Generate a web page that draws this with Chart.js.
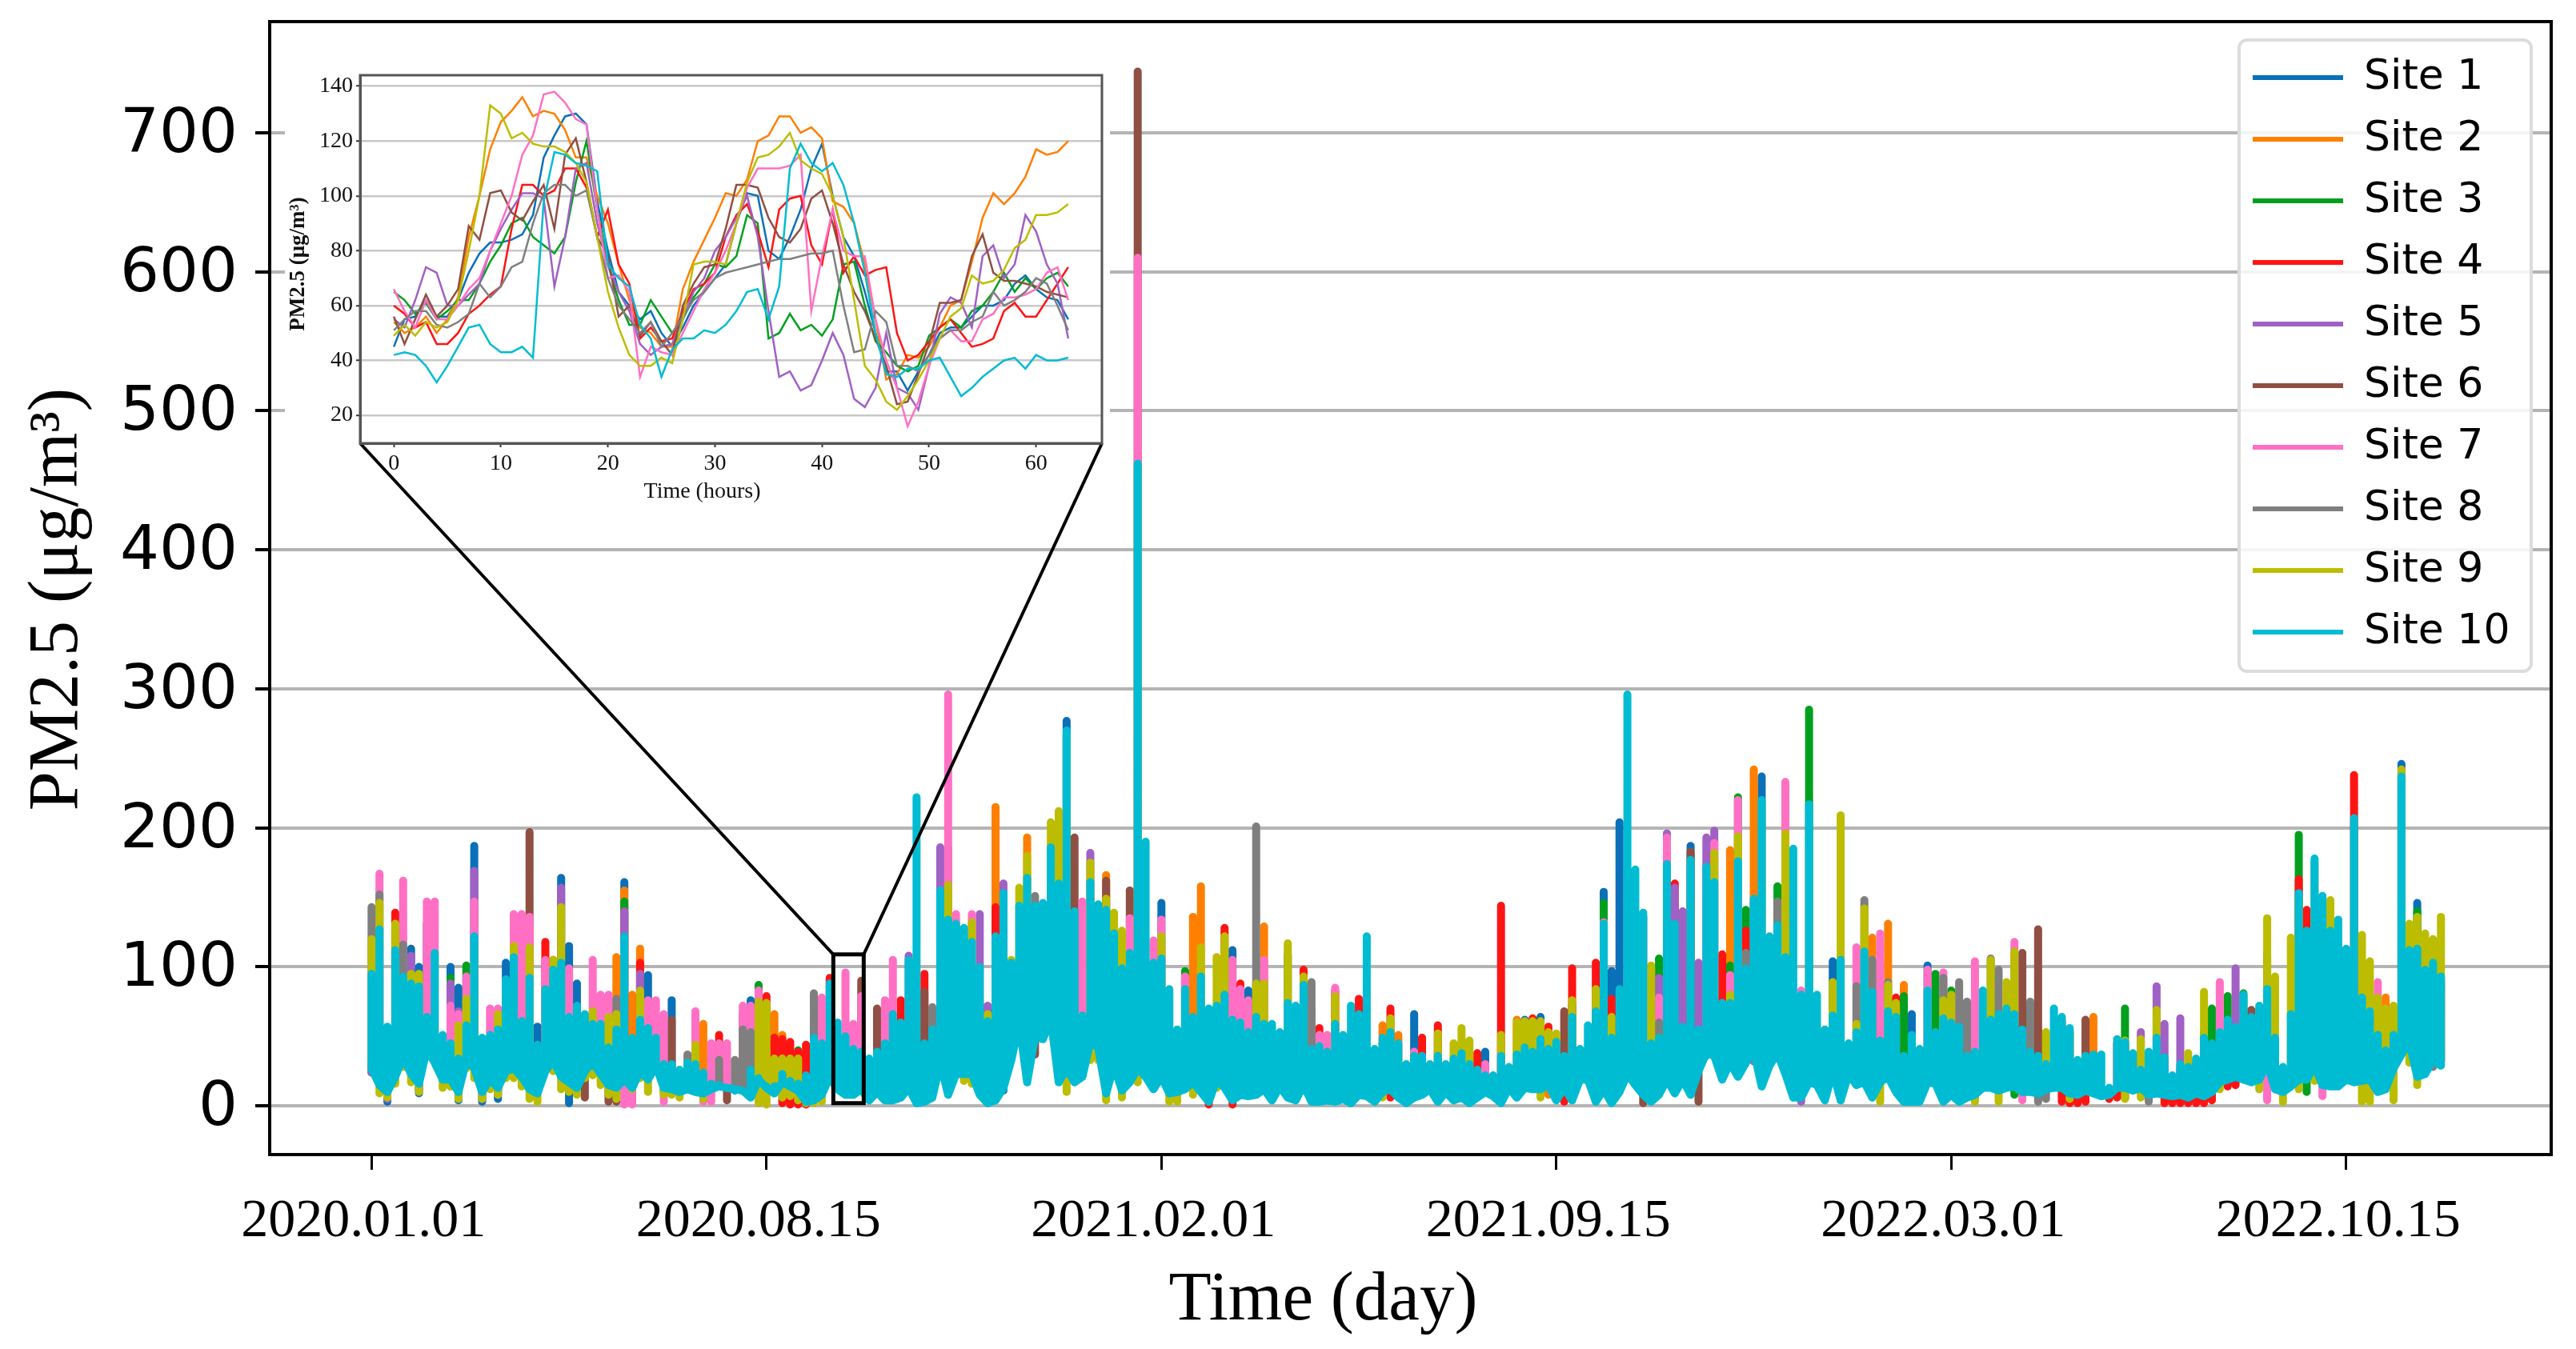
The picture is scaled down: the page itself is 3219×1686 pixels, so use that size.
<!DOCTYPE html>
<html>
<head>
<meta charset="utf-8">
<style>
html,body{margin:0;padding:0;background:#fff;width:3219px;height:1686px;overflow:hidden}
#wrap{position:relative;width:3219px;height:1686px}
canvas{position:absolute;left:0;top:0}
</style>
<script src="https://cdn.jsdelivr.net/npm/chart.js@4/dist/chart.umd.min.js"></script>
</head>
<body>
<div id="wrap"><canvas id="main" width="3219" height="1686"></canvas><canvas id="inset" width="3219" height="1686"></canvas></div>
<script>
const siteNames=['Site 1','Site 2','Site 3','Site 4','Site 5','Site 6','Site 7','Site 8','Site 9','Site 10'];
const siteColors=['#0a70b8','#ff7f00','#00a01e','#ff1414','#a060c4','#8f4f42','#ff70c4','#7f7f7f','#bcbd00','#00bcd2'];
const xTickLabels=['2020.01.01','2020.08.15','2021.02.01','2021.09.15','2022.03.01','2022.10.15'];
const xTickHours=[0,5000,10000,15000,20000,25000];

// Site 10 sits on top of everything: highest and lowest reading per 100-hour bin
const site10High=[95,127,57,112,93,88,86,64,110,51,45,34,58,122,49,51,55,91,107,61,92,44,84,98,103,64,72,66,59,59,42,55,122,49,62,56,49,
30,30,26,31,30,24,16,15,13,11,11,26,20,14,14,23,18,16,22,49,45,88,60,50,41,39,34,39,45,66,60,105,222,45,55,155,134,131,
128,118,100,61,122,153,103,144,164,144,146,186,160,270,140,65,161,145,141,124,99,110,462,190,103,106,84,55,84,64,93,70,72,80,62,60,53,64,
59,59,53,74,72,87,41,43,39,59,51,72,66,122,41,49,53,45,30,36,36,30,36,30,34,38,30,26,22,22,36,28,37,42,39,48,41,46,
36,64,41,58,68,131,49,84,296,170,139,45,49,174,131,57,177,55,172,161,74,74,176,99,149,220,122,130,107,185,80,217,80,55,65,105,45,53,
111,82,47,68,64,36,51,41,83,53,63,60,57,36,39,83,62,66,70,66,55,39,36,30,70,64,56,33,36,37,37,13,48,46,38,26,39,49,
35,22,30,28,34,49,45,53,62,57,80,64,72,84,49,28,66,153,126,178,151,126,134,113,207,78,68,51,40,51,237,112,113,98,103,93];
const site10Low=[27,15,10,21,35,23,16,41,31,19,19,10,33,27,10,19,13,25,27,21,12,9,25,33,21,17,13,25,31,23,15,13,19,13,25,19,29,
13,12,10,12,10,9,12,14,13,12,11,6,19,13,9,17,14,11,3,4,8,21,12,8,8,12,4,10,4,4,6,13,2,3,6,31,8,23,
23,23,8,2,4,13,33,60,17,50,48,63,17,27,17,21,46,42,9,29,11,17,27,21,12,21,9,10,12,17,10,3,19,13,4,8,7,8,
12,4,14,6,4,15,3,3,4,3,5,2,8,7,3,10,12,6,2,6,8,12,3,10,4,6,2,6,10,7,2,13,6,13,12,12,15,4,
13,4,19,19,3,12,2,10,23,15,8,3,8,19,9,19,8,25,38,36,19,31,21,31,40,14,29,38,23,6,6,17,15,4,25,4,23,15,
17,6,17,21,10,3,3,3,17,16,3,8,3,6,8,13,13,11,13,14,10,10,9,12,13,13,9,8,11,9,7,8,13,13,11,13,8,9,
8,7,8,6,9,7,10,17,19,21,19,17,19,31,12,10,14,19,19,29,15,14,14,19,17,18,19,10,12,27,37,46,21,23,33,29];

// Other sites: [bin, value] of the readings that show above or below Site 10
const site1Peaks=[[5,113],[6,100],[7,131],[10,100],[11,85],[13,187],[17,103],[21,57],[24,164],[25,115],[26,88],[32,161],[35,94],[38,76],[48,76],[88,277],[100,146],[109,112],[111,83],[112,89],[116,109],[132,66],[141,39],[146,62],[148,64],[156,154],[157,97],[158,204],[167,187],[176,237],[185,104],[195,66],[197,101],[256,67],[257,246],[259,146]];
const site1Lows=[[0,24],[2,3],[6,9],[11,4],[14,3],[16,5],[25,2],[37,10],[80,11]];
const site2Peaks=[[18,128],[31,107],[32,155],[33,80],[34,113],[42,59],[51,66],[52,51],[79,215],[83,193],[93,166],[104,136],[105,158],[113,129],[128,58],[130,51],[145,62],[172,184],[175,242],[190,121],[192,131],[194,87],[218,64],[255,78]];
const site2Lows=[[149,8]];
const site3Peaks=[[10,92],[12,101],[32,147],[49,87],[54,40],[103,97],[152,72],[156,146],[163,106],[172,101],[173,222],[174,141],[178,158],[182,285],[194,79],[198,95],[200,83],[222,70],[232,53],[233,70],[235,79],[237,81],[240,109],[244,195],[259,140]];
const site3Lows=[[203,6],[208,8],[245,10]];
const site4Peaks=[[3,139],[22,118],[23,105],[32,140],[34,103],[44,51],[50,79],[51,49],[52,48],[53,46],[54,39],[55,44],[58,92],[67,76],[70,95],[79,143],[108,128],[110,88],[118,98],[120,56],[122,83],[125,77],[129,70],[133,49],[135,58],[140,38],[143,144],[147,63],[149,57],[152,99],[155,103],[157,77],[165,160],[171,109],[174,126],[193,78],[211,55],[244,163],[245,141],[251,238],[262,90]];
const site4Lows=[[33,7],[52,2],[53,1],[54,1],[55,1],[106,1],[109,1],[129,6],[151,3],[214,3],[215,2],[216,2],[217,3],[220,5],[221,6],[222,6],[227,2],[228,2],[229,2],[230,2],[231,2],[232,2],[233,4],[235,14],[236,15]];
const site5Peaks=[[5,108],[10,88],[11,68],[13,169],[24,157],[32,140],[34,95],[68,108],[72,186],[73,186],[77,138],[78,72],[80,160],[91,182],[163,92],[164,196],[165,157],[166,140],[168,103],[169,193],[170,198],[224,53],[226,86],[227,59],[229,63],[236,99],[247,144]];
const site5Lows=[[0,24],[2,5],[6,12],[10,14],[14,5],[16,8],[175,32],[181,3]];
const site6Peaks=[[20,197],[38,62],[47,66],[62,90],[64,70],[70,82],[84,110],[89,193],[93,162],[96,155],[97,744],[151,68],[167,183],[209,110],[211,127],[217,62],[238,69]];
const site6Lows=[[27,6],[30,3],[31,3],[45,4],[84,37],[161,2],[168,3]];
const site7Peaks=[[1,167],[4,162],[7,147],[8,147],[10,72],[11,66],[12,93],[13,147],[15,70],[16,70],[18,138],[19,138],[20,136],[22,105],[25,99],[28,105],[29,80],[30,80],[35,76],[36,76],[37,66],[41,68],[43,45],[44,45],[45,45],[47,72],[48,72],[49,83],[57,78],[60,96],[61,59],[62,79],[65,76],[66,105],[73,296],[74,138],[76,138],[79,120],[90,147],[96,135],[97,610],[99,119],[100,134],[103,93],[109,105],[110,84],[111,76],[113,105],[119,70],[120,51],[121,51],[122,85],[132,39],[141,30],[156,132],[163,78],[164,193],[170,189],[172,94],[173,220],[179,233],[181,83],[188,114],[191,124],[197,98],[199,96],[201,72],[203,104],[208,118],[214,58],[234,89],[254,89]];
const site7Lows=[[32,1],[33,1],[37,3],[42,3],[43,3],[75,20],[169,36],[209,4],[240,4],[247,7]];
const site8Peaks=[[0,143],[1,152],[4,116],[31,77],[40,37],[44,33],[46,33],[47,55],[48,53],[56,81],[71,71],[84,151],[112,201],[119,89],[163,60],[174,110],[178,147],[188,86],[189,148],[190,105],[192,89],[199,92],[201,89],[202,75],[205,106],[206,98],[210,75],[214,45],[246,120]];
const site8Lows=[[211,3],[212,5],[225,3],[260,25],[261,28]];
const site9Peaks=[[0,120],[1,146],[3,131],[5,95],[6,95],[11,58],[12,77],[16,66],[18,115],[20,114],[23,105],[24,143],[28,68],[30,64],[31,66],[34,83],[41,44],[49,75],[50,74],[51,34],[52,34],[53,34],[54,34],[73,159],[76,132],[78,66],[81,105],[82,157],[83,180],[85,145],[86,204],[87,212],[91,175],[93,149],[94,139],[95,126],[100,122],[105,114],[107,107],[108,122],[112,88],[113,88],[116,117],[118,93],[122,79],[129,63],[135,52],[137,45],[138,56],[139,47],[143,51],[145,60],[146,61],[147,61],[148,61],[149,53],[150,52],[152,76],[155,84],[157,64],[162,101],[170,182],[172,80],[173,194],[179,196],[185,89],[186,209],[188,59],[189,142],[192,87],[193,74],[199,76],[200,80],[205,105],[207,89],[208,111],[212,53],[222,47],[224,48],[226,69],[230,38],[232,82],[240,135],[241,93],[243,121],[248,148],[252,123],[253,104],[254,78],[255,70],[256,72],[257,242],[258,131],[259,136],[260,124],[261,120],[262,136]];
const site9Lows=[[1,9],[2,6],[3,16],[4,28],[5,17],[6,10],[9,13],[10,14],[11,5],[12,27],[13,20],[14,5],[15,12],[16,8],[17,20],[18,20],[19,14],[20,5],[21,3],[23,25],[24,12],[25,10],[26,8],[27,20],[28,22],[29,15],[30,8],[31,5],[33,12],[34,20],[35,10],[37,8],[38,8],[39,6],[42,5],[49,2],[50,1],[52,6],[53,7],[54,4],[55,2],[56,2],[57,3],[75,18],[76,16],[88,10],[91,33],[92,33],[93,4],[95,6],[97,17],[101,3],[102,3],[104,8],[107,13],[128,6],[148,6],[152,10],[176,37],[186,4],[191,3],[203,3],[206,3],[215,5],[222,5],[224,6],[234,12],[239,12],[242,3],[244,12],[246,18],[252,3],[253,3],[256,4],[258,31],[259,15]];

// Inset: 64 hourly readings per site
const insetHours=[0,1,2,3,4,5,6,7,8,9,10,11,12,13,14,15,16,17,18,19,20,21,22,23,24,25,26,27,28,29,30,31,32,33,34,35,36,37,38,39,40,41,42,43,44,45,46,47,48,49,50,51,52,53,54,55,56,57,58,59,60,61,62,63];
const inset1=[45,55,56,62,56,56,62,72,79,83,83,84,86,93,114,122,129,130,126,98,80,65,60,55,58,50,45,52,60,65,70,75,90,101,100,80,77,85,95,110,119,100,85,78,65,50,36,36,29,36,42,50,52,52,56,60,60,62,68,71,66,63,62,55];
const inset2=[54,50,52,56,50,55,63,85,100,117,127,131,136,129,131,130,124,114,114,100,90,75,62,52,50,45,45,66,76,84,92,101,100,106,120,122,129,129,123,125,121,98,96,90,75,55,33,35,42,41,45,52,60,62,76,92,101,97,101,107,117,115,116,120];
const inset3=[65,62,57,61,55,58,62,62,68,76,82,90,92,85,82,79,85,105,120,95,75,62,53,53,62,56,50,55,63,68,75,74,78,93,90,48,50,57,51,53,49,55,75,76,60,47,43,38,36,38,49,52,55,52,58,60,65,72,65,70,66,70,72,67];
const inset4=[60,57,52,54,46,46,50,57,60,64,67,88,104,104,100,102,110,110,103,85,95,75,68,48,52,47,48,58,66,68,72,85,93,97,87,74,95,99,100,82,75,95,72,78,71,73,74,50,40,42,47,52,55,50,45,46,48,58,61,56,56,62,68,74];
const inset5=[55,52,62,74,72,60,60,64,68,80,88,95,101,101,99,67,85,110,112,90,75,65,58,46,42,45,46,55,65,70,80,85,92,100,85,58,34,36,29,31,40,50,42,26,23,30,50,30,28,22,38,57,63,61,52,78,82,70,75,93,87,75,68,48];
const inset6=[56,46,55,64,56,60,66,89,84,101,102,94,91,98,104,88,115,121,105,85,78,56,60,49,54,47,42,60,68,74,75,88,104,104,103,92,85,83,88,99,102,90,75,65,58,48,38,24,25,35,46,61,61,62,78,86,72,69,69,68,67,65,64,63];
const inset7=[66,58,52,62,55,55,60,66,70,80,90,100,115,122,137,138,134,128,126,95,70,71,65,34,45,43,42,50,58,66,72,80,90,103,110,110,110,111,115,58,78,95,80,78,78,55,40,30,16,25,38,48,51,47,47,55,57,63,63,64,66,72,74,62];
const inset8=[51,55,58,58,53,52,54,57,68,63,67,74,76,90,101,104,104,100,102,85,70,60,55,50,54,45,50,56,62,65,70,72,73,74,75,76,77,77,78,79,79,80,60,43,44,58,54,38,38,36,42,48,51,51,54,56,65,60,62,65,70,68,60,51];
const inset9=[49,53,49,54,52,54,62,80,100,133,130,121,123,119,118,118,116,112,105,85,65,52,42,38,38,41,39,55,75,76,76,75,90,105,114,115,118,123,113,110,108,100,85,62,38,33,25,22,27,33,40,48,56,59,71,68,69,73,81,84,93,93,94,97];
const inset10=[42,43,42,38,32,38,45,52,53,46,43,43,45,41,98,116,115,112,111,109,75,70,67,53,48,34,44,48,48,51,50,53,58,65,66,55,67,110,119,112,109,112,104,90,72,50,35,34,37,37,40,41,34,27,30,34,37,40,41,37,42,40,40,41];

const binHours=site10High.map((_,k)=>k*100);

function sticks(peaks,lows){
  const m=new Map();
  peaks.forEach(([b,v])=>m.set(b,{top:v}));
  lows.forEach(([b,v])=>{const e=m.get(b)||{};e.low=v;m.set(b,e);});
  const out=[];
  [...m.keys()].sort((a,b)=>a-b).forEach(b=>{
    const e=m.get(b);
    const low=e.low??Math.min(site10Low[b]+3,site10High[b]);
    const top=e.top??Math.max(site10High[b]-3,low);
    out.push({x:binHours[b],y:low},{x:binHours[b],y:top},{x:binHours[b],y:null});
  });
  return out;
}
// Each bin is a rise to its high and a fall to its low, joined along the low side
function band(high,low){
  const out=[];
  high.forEach((h,k)=>out.push({x:binHours[k],y:low[k]},{x:binHours[k],y:h},{x:binHours[k],y:low[k]}));
  return out;
}
const mainData=[
  sticks(site1Peaks,site1Lows),sticks(site2Peaks,site2Lows),sticks(site3Peaks,site3Lows),
  sticks(site4Peaks,site4Lows),sticks(site5Peaks,site5Lows),sticks(site6Peaks,site6Lows),
  sticks(site7Peaks,site7Lows),sticks(site8Peaks,site8Lows),sticks(site9Peaks,site9Lows),
  band(site10High,site10Low)
];
const insetData=[inset1,inset2,inset3,inset4,inset5,inset6,inset7,inset8,inset9,inset10];

function shiftDraw(scale,method,dx,dy){
  const flag='_shift_'+method;
  if(scale[flag]) return;
  scale[flag]=true;
  const orig=scale[method];
  scale[method]=function(...a){const c=this.ctx;c.save();c.translate(dx,dy);orig.apply(this,a);c.restore();};
}

const BOX=[356,72,1387,645];      // white panel behind the inset
const INSET_AREA={left:450,top:94,right:1377,bottom:554};
const ZOOM_WINDOW={x0:5846,x1:6231,y0:2,y1:109};

const mainDecor={
  id:'mainDecor',
  afterLayout(chart){
    shiftDraw(chart.scales.x,'drawTitle',-109,0);
    shiftDraw(chart.scales.y,'drawTitle',0,14);
    shiftDraw(chart.scales.y,'drawLabels',0,4);
    const lg=chart.legend;
    lg.left=2790;lg.top=46;lg.right=3219;lg.bottom=1686;
    if(!lg._framed){
      lg._framed=true;
      const d=lg.draw;
      lg.draw=function(){
        const c=this.ctx;
        c.save();
        c.beginPath();c.roundRect(2798,50,365,789,10);
        c.fillStyle='rgba(255,255,255,0.85)';c.fill();
        c.strokeStyle='#dcdcdc';c.lineWidth=4;c.stroke();
        c.restore();
        d.call(this);
      };
    }
  },
  afterDatasetsDraw(chart){
    const c=chart.ctx,sx=chart.scales.x,sy=chart.scales.y;
    c.save();
    c.fillStyle='#fff';
    c.fillRect(BOX[0],BOX[1],BOX[2]-BOX[0],BOX[3]-BOX[1]);
    const l=sx.getPixelForValue(ZOOM_WINDOW.x0),r=sx.getPixelForValue(ZOOM_WINDOW.x1);
    const t=sy.getPixelForValue(ZOOM_WINDOW.y1),b=sy.getPixelForValue(ZOOM_WINDOW.y0);
    c.strokeStyle='#000';c.lineWidth=4;
    c.beginPath();
    c.moveTo(l,t);c.lineTo(INSET_AREA.left,INSET_AREA.bottom);
    c.moveTo(r,t);c.lineTo(INSET_AREA.right,INSET_AREA.bottom);
    c.stroke();
    c.lineWidth=5;c.strokeRect(l,t,r-l,b-t);
    c.restore();
  },
  afterDraw(chart){
    const c=chart.ctx,a=chart.chartArea;
    c.save();c.strokeStyle='#000';c.lineWidth=4;
    c.strokeRect(a.left,a.top,a.right-a.left,a.bottom-a.top);
    c.restore();
  }
};

new Chart(document.getElementById('main'),{
  type:'line',
  data:{datasets:siteNames.map((n,i)=>({label:n,data:mainData[i],order:9-i,borderColor:siteColors[i],backgroundColor:siteColors[i],
    borderWidth:10,borderDash:[10000000,0],borderCapStyle:'round',borderJoinStyle:'round',pointRadius:0,tension:0,spanGaps:false,fill:false}))},
  options:{
    responsive:false,animation:false,events:[],
    layout:{padding:{left:0,top:27,right:31,bottom:0}},
    plugins:{
      tooltip:{enabled:false},
      legend:{display:true,position:'chartArea',align:'start',
        labels:{boxWidth:113,boxHeight:6,padding:25,color:'#1a1a1a',font:{family:'"DejaVu Sans"',size:52},
          generateLabels:ch=>ch.data.datasets.map((d,i)=>({text:d.label,fillStyle:d.borderColor,strokeStyle:d.borderColor,lineWidth:0,datasetIndex:i,hidden:false}))}}
    },
    scales:{
      x:{type:'linear',min:-1290,max:27596,
        afterBuildTicks(s){s.ticks=xTickHours.map(value=>({value}));},
        afterFit(s){s.height=243;s.paddingLeft=0;s.paddingRight=0;},
        grid:{drawOnChartArea:false,tickColor:'#000',tickLength:19,tickWidth:3},
        border:{display:true,color:'#000',width:4},
        ticks:{autoSkip:false,maxRotation:0,padding:24,labelOffset:-10,color:'#000',
          font:{family:'"Liberation Serif"',size:68},callback:(v,i)=>xTickLabels[i]},
        title:{display:true,text:'Time (day)',color:'#000',font:{family:'"Liberation Serif"',size:87},padding:{top:0,bottom:8}}
      },
      y:{type:'linear',min:-35,max:780,
        afterFit(s){s.width=337;s.paddingTop=0;s.paddingBottom=0;},
        grid:{color:'#b4b4b4',lineWidth:4,tickColor:'#000',tickLength:18,tickWidth:4},
        border:{display:true,color:'#000',width:4},
        ticks:{stepSize:100,includeBounds:false,padding:22,color:'#000',font:{family:'"DejaVu Sans"',size:77}},
        title:{display:true,text:'PM2.5 (μg/m³)',color:'#000',font:{family:'"Liberation Serif"',size:88},padding:{top:20,bottom:0}}
      }
    }
  },
  plugins:[mainDecor]
});

const insetDecor={
  id:'insetDecor',
  afterLayout(chart){shiftDraw(chart.scales.x,'drawTitle',-36,0);shiftDraw(chart.scales.y,'drawTitle',0,6);},
  afterDraw(chart){
    const c=chart.ctx,a=chart.chartArea;
    c.save();c.strokeStyle='#555';c.lineWidth=3;
    c.strokeRect(a.left,a.top,a.right-a.left,a.bottom-a.top);
    c.restore();
  }
};
new Chart(document.getElementById('inset'),{
  type:'line',
  data:{datasets:siteNames.map((n,i)=>({label:n,order:9-i,data:insetData[i].map((v,h)=>({x:insetHours[h],y:v})),borderColor:siteColors[i],
    borderWidth:2.5,pointRadius:0,tension:0,fill:false}))},
  options:{
    responsive:false,animation:false,events:[],
    layout:{padding:{left:356,top:94,right:3219-1377,bottom:1686-645}},
    plugins:{legend:{display:false},tooltip:{enabled:false}},
    scales:{
      x:{type:'linear',min:-3.15,max:66.15,
        afterFit(s){s.height=91;},
        grid:{drawOnChartArea:false,tickColor:'#333',tickLength:5,tickWidth:2},
        border:{display:true,color:'#555',width:3},
        ticks:{stepSize:10,includeBounds:false,maxRotation:0,padding:4,color:'#111',font:{family:'"Liberation Serif"',size:28}},
        title:{display:true,text:'Time (hours)',color:'#111',font:{family:'"Liberation Serif"',size:28},padding:{top:0,bottom:14}}
      },
      y:{type:'linear',min:9.8,max:144,
        afterFit(s){s.width=94;},
        grid:{color:'#c8c8c8',lineWidth:2.5,tickColor:'#333',tickLength:5,tickWidth:2},
        border:{display:true,color:'#555',width:3},
        ticks:{stepSize:20,includeBounds:false,padding:4,color:'#111',font:{family:'"Liberation Serif"',size:28}},
        title:{display:true,text:'PM2.5 (μg/m³)',color:'#111',font:{family:'"Liberation Serif"',size:27,weight:'bold'},padding:{top:1,bottom:0}}
      }
    }
  },
  plugins:[insetDecor]
});
</script>
</body>
</html>
